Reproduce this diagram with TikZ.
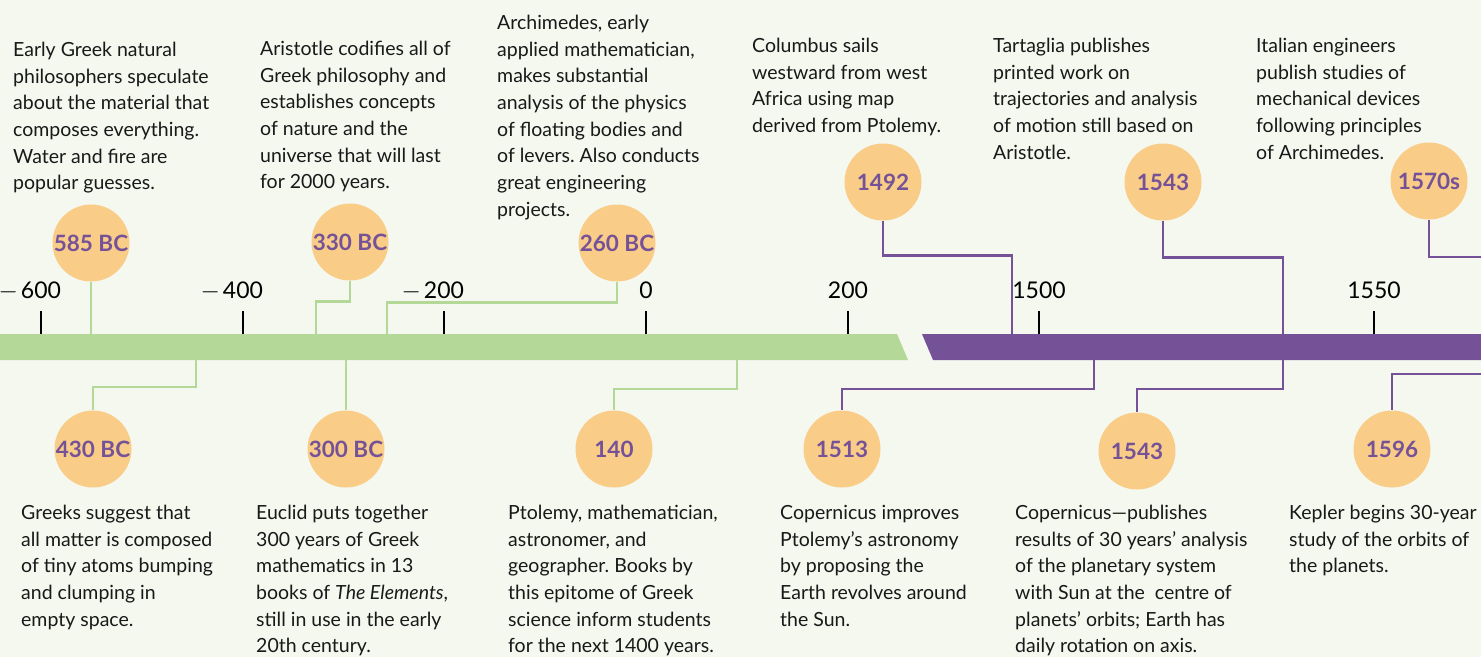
\documentclass[tikz,border=0pt]{standalone}
\usepackage{fontspec}
\setmainfont{Lato}
\usepackage{xcolor}
\usepackage{tikz}
\usetikzlibrary{positioning,calc}
\definecolor{tlbg}{RGB}{245,248,239}
\definecolor{tlgreen}{RGB}{180,216,152}
\definecolor{tlpurple}{RGB}{117,82,152}
\definecolor{tlcirc}{RGB}{249,205,135}
\definecolor{tltext}{RGB}{25,25,25}
\frenchspacing

\begin{document}
\begin{tikzpicture}[x=1pt,y=1pt,
        year/.style={circle, fill=tlcirc, minimum size=77pt, inner sep=0pt, text=tlpurple, font=\fontsize{22.5}{22.5}\selectfont\bfseries},
        note/.style={align=left, anchor=north west, inner sep=0pt, text=tltext, font=\fontsize{19.5}{26.67}\selectfont},
        gline/.style={draw=tlgreen, line width=2.5pt},
        pline/.style={draw=tlpurple, line width=2.5pt},
        tickmark/.style={draw=black, line width=2.5pt},
        ticklbl/.style={anchor=base, inner sep=0pt, font=\fontsize{23}{23}\selectfont}
      ]
        \fill[tlbg] (0,0) rectangle (1481,-657);
        \useasboundingbox (0,0) rectangle (1481,-657);
        % the two bars
        \fill[tlgreen] (0,-334) -- (897,-334) -- (908,-360) -- (0,-360) -- cycle;
        \fill[tlpurple] (922,-334) -- (1481,-334) -- (1481,-360) -- (933,-360) -- cycle;
        % ticks
        \foreach \x/\lbl in {41/\llap{$-$\kern3pt}600, 243/\llap{$-$\kern3pt}400, 444/\llap{$-$\kern3pt}200, 646/0, 848/200, 1039/1500, 1374/1550} {
          \draw[tickmark] (\x,-311) -- (\x,-334);
          \node[ticklbl] at (\x,-298) {\lbl};
        }
        % points on the bars
        \coordinate (g585) at (91,-334);
        \coordinate (g330) at (316,-334);
        \coordinate (g260) at (387,-334);
        \coordinate (g430) at (196,-360);
        \coordinate (g300) at (346,-360);
        \coordinate (g140) at (737,-360);
        \coordinate (p1492) at (1012,-334);
        \coordinate (p1543a) at (1283,-334);
        \coordinate (p1513) at (1094,-360);
        \coordinate (p1543b) at (1283,-360);
        \coordinate (p1570) at (1481,-257);
        \coordinate (p1596) at (1481,-374);

        % year circles
        \node[year] at (91,-243) (c585) {585 BC};
        \node[year] at (350,-242) (c330) {330 BC};
        \node[year] at (617,-243) (c260) {260 BC};
        \node[year] at (883,-182) (c1492) {1492};
        \node[year] at (1163,-182) (c1543a) {1543};
        \node[year] at (1429,-181) (c1570) {1570s};
        \node[year] at (93,-449) (c430) {430 BC};
        \node[year] at (346,-449) (c300) {300 BC};
        \node[year] at (614,-449) (c140) {140};
        \node[year] at (842,-449) (c1513) {1513};
        \node[year] at (1137,-451) (c1543b) {1543};
        \node[year] at (1392,-449) (c1596) {1596};

        % connectors
        \draw[gline] (c585) -- (g585);
        \draw[gline] (c330.south) -- ++(0,-21) -| (g330);
        \draw[gline] (c260.south) -- ++(0,-21) -| (g260);
        \draw[gline] (g430) -- ++(0,-27) -| (c430);
        \draw[gline] (g300) -- (c300);
        \draw[gline] (g140) -- ++(0,-29) -| (c140);
        \draw[pline] (c1492.south) -- ++(0,-35) -| (p1492);
        \draw[pline] (c1543a.south) -- ++(0,-37) -| (p1543a);
        \draw[pline] (c1570.south) |- (p1570);
        \draw[pline] (p1513) -- ++(0,-29) -| (c1513);
        \draw[pline] (p1543b) -- ++(0,-29) -| (c1543b);
        \draw[pline] (p1596) -| (c1596);

        % top notes
        \node[note] at (13,-42) (t585) {Early Greek natural\\philosophers speculate\\about the material that\\composes everything.\\Water and fire are\\popular guesses.};
        \node[note] at (260,-41) (t330) {Aristotle codifies all of\\Greek philosophy and\\establishes concepts\\of nature and the\\universe that will last\\for 2000 years.};
        \node[note] at (497,-15) (t260) {Archimedes, early\\applied mathematician,\\makes substantial\\analysis of the physics\\of floating bodies and\\of levers. Also conducts\\great engineering\\projects.};
        \node[note] at (752,-38) (t1492) {Columbus sails\\westward from west\\Africa using map\\derived from Ptolemy.};
        \node[note] at (993,-38) (t1543a) {Tartaglia publishes\\printed work on\\trajectories and analysis\\of motion still based on\\Aristotle.};
        \node[note] at (1256,-38) (t1570) {Italian engineers\\publish studies of\\mechanical devices\\following principles\\of Archimedes.};
        % bottom notes
        \node[note] at (21,-505) (t430) {Greeks suggest that\\all matter is composed\\of tiny atoms bumping\\and clumping in\\empty space.};
        \node[note] at (256,-505) (t300) {Euclid puts together\\300 years of Greek\\mathematics in 13\\books of \textit{The Elements},\\still in use in the early\\20th century.};
        \node[note] at (508,-505) (t140) {Ptolemy, mathematician,\\astronomer, and\\geographer. Books by\\this epitome of Greek\\science inform students\\for the next 1400 years.};
        \node[note] at (780,-505) (t1513) {Copernicus improves\\Ptolemy’s astronomy\\by proposing the\\Earth revolves around\\the Sun.};
        \node[note] at (1015,-505) (t1543b) {Copernicus—publishes\\results of 30 years’ analysis\\of the planetary system\\with Sun at the~ centre of\\planets’ orbits; Earth has\\daily rotation on axis.};
        \node[note] at (1289,-505) (t1596) {Kepler begins 30-year\\study of the orbits of\\the planets.};
      \end{tikzpicture}
\end{document}
